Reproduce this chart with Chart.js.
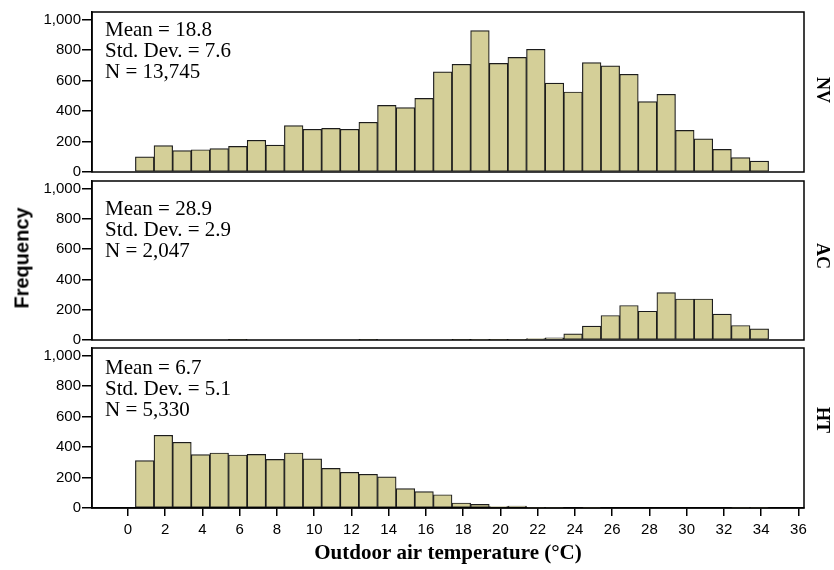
<!DOCTYPE html>
<html>
<head>
<meta charset="utf-8">
<script src="https://cdn.jsdelivr.net/npm/chart.js@4/dist/chart.umd.min.js"></script>
<style>
  body { margin: 0; background: #fff; }
  #wrap { position: relative; width: 834px; height: 570px; overflow: hidden; }
  #wrap canvas { position: absolute; left: 0; top: 0; }
  .stats {
    position: absolute; left: 105px;
    font: 21px "Liberation Serif", "Times New Roman", serif;
    line-height: 21px; color: #000; white-space: nowrap;
  }
  .group {
    position: absolute; left: 822px;
    font: bold 18px "Liberation Serif", "Times New Roman", serif;
    color: #000; white-space: nowrap;
    transform: translate(-50%, -50%) rotate(90deg);
  }
  #ytitle {
    position: absolute; left: 22px; top: 258px;
    font: bold 20px "Liberation Sans", Arial, sans-serif;
    color: #000; white-space: nowrap;
    transform: translate(-50%, -50%) rotate(-90deg);
  }
</style>
</head>
<body>
<div id="wrap">
  <canvas id="c0" width="834" height="570"></canvas>
  <canvas id="c1" width="834" height="570"></canvas>
  <canvas id="c2" width="834" height="570"></canvas>
  <div id="ytitle">Frequency</div>
</div>
<script>
// bin centres (°C), one degree wide
const tempBins = [0.9, 1.9, 2.9, 3.9, 4.9, 5.9, 6.9, 7.9, 8.9, 9.9, 10.9, 11.9,
  12.9, 13.9, 14.9, 15.9, 16.9, 17.9, 18.9, 19.9, 20.9, 21.9, 22.9, 23.9,
  24.9, 25.9, 26.9, 27.9, 28.9, 29.9, 30.9, 31.9, 32.9, 33.9];

const nvCounts = [100, 173, 140, 146, 153, 168, 208, 177, 304, 280, 286, 280,
  326, 437, 422, 483, 657, 707, 928, 713, 752, 805, 584, 525,
  718, 696, 641, 462, 510, 273, 217, 148, 94, 72];

const acCounts = [null, null, null, null, null, 2, null, null, null, null, null, null,
  2, null, null, null, null, 2, 4, 3, 4, 10, 15, 40,
  92, 162, 228, 190, 313, 271, 271, 171, 96, 74];

const htCounts = [311, 477, 431, 350, 361, 348, 352, 319, 361, 322, 260, 234,
  221, 204, 127, 107, 87, 33, 24, 10, 12, 3, 2, null,
  4, null, null, null, null, null, null, null, 2, 2];

const groups = ["NV", "AC", "HT"];
const means = [18.8, 28.9, 6.7];
const stdDevs = [7.6, 2.9, 5.1];
const counts = [13745, 2047, 5330];

const xTicks = [0, 2, 4, 6, 8, 10, 12, 14, 16, 18, 20, 22, 24, 26, 28, 30, 32, 34, 36];
const yTicks = [0, 200, 400, 600, 800, 1000];

// vertical placement of each panel on the page
const panelTop = [12, 181, 348];
const panelBottom = [172, 340, 508];
const statsTop = [19, 198, 357];
const groupY = [90, 256, 420];

const tickFont = { family: "'Liberation Sans', Arial, sans-serif", size: 15 };

const framePlugin = {
  id: 'frame',
  afterDatasetsDraw(chart) {
    const a = chart.chartArea;
    const ctx = chart.ctx;
    ctx.save();
    ctx.strokeStyle = '#000';
    ctx.lineWidth = 1.5;
    ctx.strokeRect(a.left, a.top, a.right - a.left, a.bottom - a.top);
    ctx.restore();
  }
};

function makePanel(i, values) {
  const last = i === 2;
  const ctx = document.getElementById('c' + i).getContext('2d');
  return new Chart(ctx, {
    type: 'bar',
    data: {
      datasets: [{
        data: tempBins.map((t, k) => ({ x: t, y: values[k] })),
        backgroundColor: '#d4cf98',
        borderColor: '#1c1c1c',
        borderWidth: 1.2,
        borderSkipped: false,
        barPercentage: 1,
        categoryPercentage: 1
      }]
    },
    options: {
      responsive: false,
      animation: false,
      devicePixelRatio: 1,
      layout: {
        padding: { left: 0, right: 30, top: panelTop[i], bottom: last ? 0 : 570 - panelBottom[i] }
      },
      plugins: { legend: { display: false }, tooltip: { enabled: false } },
      scales: {
        x: {
          type: 'linear',
          display: last,
          offset: false,
          min: -1.93,
          max: 36.3,
          afterBuildTicks: s => { s.ticks = xTicks.map(v => ({ value: v })); },
          afterFit: s => { if (last) s.height = 570 - panelBottom[i]; },
          grid: { offset: false, drawOnChartArea: false, tickLength: 8, color: '#000', lineWidth: 1.5 },
          border: { color: '#000', width: 1.5 },
          ticks: { color: '#000', font: tickFont, padding: 5, maxRotation: 0 },
          title: {
            display: true,
            text: 'Outdoor air temperature (°C)',
            color: '#000',
            font: { family: "'Liberation Serif', 'Times New Roman', serif", size: 21, weight: 'bold' },
            padding: { top: 0, bottom: 4 }
          }
        },
        y: {
          min: 0,
          max: 1050,
          afterBuildTicks: s => { s.ticks = yTicks.map(v => ({ value: v })); },
          afterFit: s => { s.width = 92; },
          grid: { drawOnChartArea: false, tickLength: 10, color: '#000', lineWidth: 1.5 },
          border: { color: '#000', width: 1.5 },
          ticks: {
            color: '#000', font: tickFont, padding: 1,
            callback: v => v.toLocaleString('en-US')
          }
        }
      }
    },
    plugins: [framePlugin]
  });
}

[nvCounts, acCounts, htCounts].forEach((vals, i) => makePanel(i, vals));

// summary text and group label for each panel
const wrap = document.getElementById('wrap');
groups.forEach((g, i) => {
  const s = document.createElement('div');
  s.className = 'stats';
  s.style.top = statsTop[i] + 'px';
  s.innerHTML = 'Mean = ' + means[i].toFixed(1) + '<br>Std. Dev. = ' + stdDevs[i].toFixed(1) +
    '<br>N = ' + counts[i].toLocaleString('en-US');
  wrap.appendChild(s);

  const lab = document.createElement('div');
  lab.className = 'group';
  lab.style.top = groupY[i] + 'px';
  lab.textContent = g;
  wrap.appendChild(lab);
});
</script>
</body>
</html>
